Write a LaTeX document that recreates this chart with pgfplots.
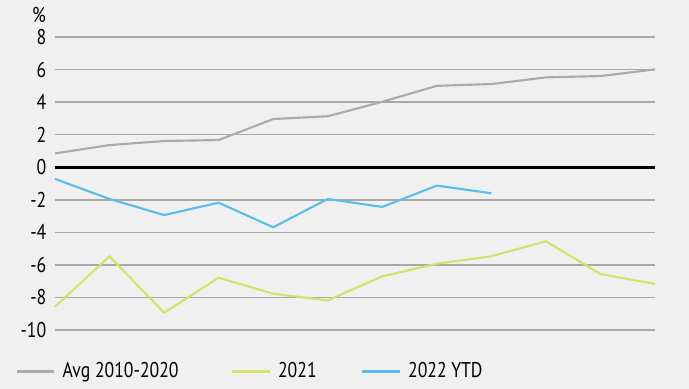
\documentclass[border=0pt]{standalone}
\usepackage{fontspec}
\setmainfont{PT Sans}[FakeStretch=0.83]
\usepackage{pgfplots}
\pgfplotsset{compat=1.18}
\definecolor{bg}{HTML}{F0F0F0}
\definecolor{gridc}{HTML}{A8A8A8}
\definecolor{avgc}{HTML}{ABABAB}
\definecolor{yc}{HTML}{D6E06A}
\definecolor{bc}{HTML}{5CBDEA}
\begin{document}
\fontsize{16pt}{19pt}\selectfont
\begin{tikzpicture}
\fill[bg] (-41.25pt,-44.25pt) rectangle (475.5pt,247.5pt);
\useasboundingbox (-41.25pt,-44.25pt) rectangle (475.5pt,247.5pt);
\begin{axis}[
  scale only axis,
  width=450pt, height=219.75pt,
  xmin=0, xmax=11, ymin=-10, ymax=8,
  axis line style={draw=none},
  xtick=\empty,
  ytick={-10,-8,...,8},
  yticklabels={-10,-8,-6,-4,-2,0,2,4,6,8},
  major tick length=0pt,
  ymajorgrids,
  grid style={gridc, line width=1.2pt},
  yticklabel style={anchor=east, xshift=-1pt, font=\fontsize{16pt}{19pt}\selectfont},
  clip=false,
  legend columns=3,
  legend style={draw=none, fill=none, at={(axis cs:0,-10)}, anchor=north west,
    xshift=-33pt, yshift=-20pt, font=\fontsize{16pt}{19pt}\selectfont,
    /tikz/every odd column/.append style={column sep=3pt},
    /tikz/column 2/.style={column sep=37pt},
    /tikz/column 4/.style={column sep=31pt}},
  legend image code/.code={\draw[#1, line width=2.6pt] (0pt,0pt) -- (28pt,0pt);},
]
\addplot[avgc, line width=1.6pt] coordinates {
(0,0.85) (1,1.36) (2,1.61) (3,1.67) (4,2.96) (5,3.13) (6,4.02) (7,5.0) (8,5.11) (9,5.52) (10,5.6) (11,6.01)};
\addlegendentry{Avg 2010-2020}
\addplot[yc, line width=1.6pt] coordinates {
(0,-8.57) (1,-5.47) (2,-8.94) (3,-6.79) (4,-7.77) (5,-8.18) (6,-6.70) (7,-5.93) (8,-5.47) (9,-4.55) (10,-6.56) (11,-7.17)};
\addlegendentry{2021}
\addplot[bc, line width=1.6pt] coordinates {
(0,-0.72) (1,-1.95) (2,-2.94) (3,-2.18) (4,-3.69) (5,-1.95) (6,-2.44) (7,-1.13) (8,-1.6)};
\addlegendentry{2022 YTD}
\addplot[black, line width=2.4pt, forget plot] coordinates {(0,0) (11,0)};
\node[anchor=south, font=\fontsize{16pt}{19pt}\selectfont] at (axis cs:0,8) [xshift=-12pt, yshift=5pt] {\%};
\end{axis}
\end{tikzpicture}
\end{document}
